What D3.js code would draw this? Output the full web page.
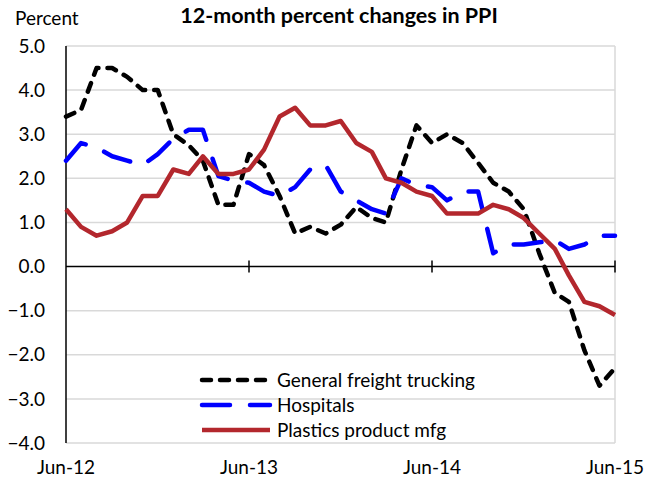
<!DOCTYPE html>
<html>
<head>
<meta charset="utf-8">
<script src="https://cdn.jsdelivr.net/npm/d3@7"></script>
<style>
  body { margin: 0; background: #fff; }
  svg text { font-family: Lato, "Open Sans", sans-serif; fill: #000; }
</style>
</head>
<body>
<div id="chart"></div>
<script>
// Chart data (monthly, Jun-12 .. Jun-15)
const startMonth = "2012-06";
const endMonth = "2015-06";
const xTickLabels = ["Jun-12", "Jun-13", "Jun-14", "Jun-15"];
const yTicks = [5, 4, 3, 2, 1, 0, -1, -2, -3, -4];

const trucking = [3.4, 3.55, 4.5, 4.5, 4.3, 4.0, 4.0, 3.0, 2.75, 2.4, 1.4, 1.4, 2.55, 2.3, 1.6, 0.75, 0.9, 0.75, 0.95, 1.35, 1.1, 1.0, 2.2, 3.2, 2.8, 3.0, 2.8, 2.35, 1.9, 1.7, 1.3, 0.3, -0.6, -0.8, -1.9, -2.7, -2.3];
const hospitals = [2.4, 2.8, 2.7, 2.5, 2.4, 2.3, 2.55, 2.9, 3.1, 3.1, 2.05, 1.95, 1.9, 1.7, 1.6, 1.8, 2.2, 2.3, 1.7, 1.5, 1.3, 1.2, 2.0, 1.85, 1.8, 1.5, 1.7, 1.7, 0.3, 0.5, 0.5, 0.55, 0.6, 0.4, 0.5, 0.7, 0.7];
const plastics = [1.3, 0.9, 0.7, 0.8, 1.0, 1.6, 1.6, 2.2, 2.1, 2.5, 2.1, 2.1, 2.2, 2.65, 3.4, 3.6, 3.2, 3.2, 3.3, 2.8, 2.6, 2.0, 1.9, 1.7, 1.6, 1.2, 1.2, 1.2, 1.4, 1.3, 1.1, 0.75, 0.4, -0.2, -0.8, -0.9, -1.1];

const seriesNames = ["General freight trucking", "Hospitals", "Plastics product mfg"];

const W = 657, H = 477;
const margin = { top: 46, right: 42, bottom: 34, left: 66 };
const width = W - margin.left - margin.right;
const height = H - margin.top - margin.bottom;

const parseMonth = d3.timeParse("%Y-%m");
const months = d3.timeMonth.range(parseMonth(startMonth), d3.timeMonth.offset(parseMonth(endMonth), 1));

const svg = d3.select("#chart").append("svg")
    .attr("width", W)
    .attr("height", H);

const g = svg.append("g")
    .attr("transform", `translate(${margin.left},${margin.top})`);

const x = d3.scaleTime()
    .domain([months[0], months[months.length - 1]])
    .range([0, width]);
const y = d3.scaleLinear()
    .domain([-4, 5])
    .range([height, 0]);

// Gridlines
g.append("g")
    .selectAll("line")
    .data(yTicks.filter(d => d !== 0))
    .enter().append("line")
    .attr("x1", 0).attr("x2", width)
    .attr("y1", d => y(d)).attr("y2", d => y(d))
    .attr("stroke", "#d9d9d9")
    .attr("stroke-width", 1.5);

// Right border
g.append("line")
    .attr("x1", width).attr("x2", width)
    .attr("y1", 0).attr("y2", height)
    .attr("stroke", "#d9d9d9")
    .attr("stroke-width", 1.5);

// Y axis labels
g.append("g")
    .selectAll("text")
    .data(yTicks)
    .enter().append("text")
    .attr("x", -21)
    .attr("y", d => y(d))
    .attr("dy", "0.35em")
    .attr("text-anchor", "end")
    .style("font-size", "19px")
    .text(d => d3.format(".1f")(d));

// Zero line with tick marks at each year
const yearDates = xTickLabels.map(l => d3.timeParse("%b-%y")(l));
g.append("line")
    .attr("x1", 0).attr("x2", width)
    .attr("y1", y(0)).attr("y2", y(0))
    .attr("stroke", "#000")
    .attr("stroke-width", 1.5);
g.append("g")
    .selectAll("line")
    .data(yearDates.slice(1))
    .enter().append("line")
    .attr("x1", d => x(d)).attr("x2", d => x(d))
    .attr("y1", y(0) - 6).attr("y2", y(0) + 6)
    .attr("stroke", "#000")
    .attr("stroke-width", 1.5);

// Left axis line
g.append("line")
    .attr("x1", 0).attr("x2", 0)
    .attr("y1", 0).attr("y2", height)
    .attr("stroke", "#000")
    .attr("stroke-width", 1.5);

// X labels at the bottom
g.append("g")
    .selectAll("text")
    .data(xTickLabels)
    .enter().append("text")
    .attr("x", (d, i) => x(yearDates[i]))
    .attr("y", height + 31)
    .attr("text-anchor", "middle")
    .style("font-size", "19px")
    .text(d => d);

// Lines
const line = d3.line()
    .x((d, i) => x(months[i]))
    .y(d => y(d));

const styles = [
    { data: trucking, color: "#000000", dash: "9,9", cap: "round" },
    { data: hospitals, color: "#0000ff", dash: "28,20", cap: "round" },
    { data: plastics, color: "#b3272d", dash: null, cap: "butt" }
];

styles.forEach(s => {
    g.append("path")
        .datum(s.data)
        .attr("d", line)
        .attr("fill", "none")
        .attr("stroke", s.color)
        .attr("stroke-width", 4.5)
        .attr("stroke-linejoin", "round")
        .attr("stroke-linecap", s.cap)
        .attr("stroke-dasharray", s.dash);
});

// Legend
const legend = svg.append("g")
    .attr("transform", "translate(200,380)");

legend.selectAll("g")
    .data(styles)
    .enter().append("g")
    .attr("transform", (d, i) => `translate(0,${i * 25})`)
    .each(function(d, i) {
        const item = d3.select(this);
        item.append("line")
            .attr("x1", 2).attr("x2", 70)
            .attr("y1", 0).attr("y2", 0)
            .attr("stroke", d.color)
            .attr("stroke-width", 4.5)
            .attr("stroke-linecap", d.cap)
            .attr("stroke-dasharray", d.dash);
        item.append("text")
            .attr("x", 77)
            .attr("y", 0)
            .attr("dy", "0.35em")
            .style("font-size", "19px")
            .text(seriesNames[i]);
    });

// Titles
svg.append("text")
    .attr("x", 339)
    .attr("y", 23)
    .attr("text-anchor", "middle")
    .style("font-size", "21.5px")
    .style("font-weight", "bold")
    .text("12-month percent changes in PPI");

svg.append("text")
    .attr("x", 15)
    .attr("y", 25)
    .style("font-size", "19px")
    .text("Percent");
</script>
</body>
</html>
